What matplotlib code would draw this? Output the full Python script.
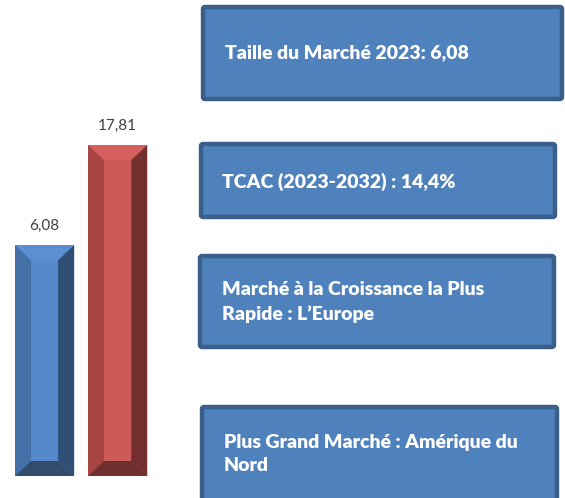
import matplotlib.pyplot as plt
from matplotlib.patches import Polygon, FancyBboxPatch

# chart data
years = ['2023', '2032']
values = [6.08, 17.81]
value_labels = ['6,08', '17,81']
base = -21.0  # bars start below zero in the source

faces = ['#5588CC', '#CD5A57']
tops = ['#5B8ED2', '#D55F5C']
lefts = ['#4571A8', '#A84441']
rights = ['#2F4F75', '#722F2E']
bottoms = ['#334C6C', '#6E302F']

infos = [
    'Taille du Marché 2023: 6,08',
    'TCAC (2023-2032) : 14,4%',
    'Marché à la Croissance la Plus\nRapide : L\u2019Europe',
    'Plus Grand Marché : Amérique du\nNord',
]

W, H = 565, 498
fig = plt.figure(figsize=(W / 100, H / 100), dpi=100)

# bar axes: left part of the figure, bottom edge at the bars' base
ax = fig.add_axes([0, 22 / H, 190 / W, 476 / H])
ax.set_xlim(-0.61, 1.99)
ax.set_ylim(base, base + 476 / 8.525)
ax.axis('off')

xs = list(range(len(values)))
width = 0.81
heights = [v - base for v in values]
ax.bar(xs, heights, width=width, bottom=base, color=faces, zorder=1)

bx = 16 / 73.0      # bevel width in x units
by = 15 / 8.525     # bevel height in y units
for i, v in enumerate(values):
    x0, x1 = xs[i] - width / 2, xs[i] + width / 2
    y0, y1 = base, v
    ix0, ix1, iy0, iy1 = x0 + bx, x1 - bx, y0 + by, y1 - by
    ax.add_patch(Polygon([(x0, y1), (x1, y1), (ix1, iy1), (ix0, iy1)], color=tops[i], lw=0, zorder=2))
    ax.add_patch(Polygon([(x0, y0), (x0, y1), (ix0, iy1), (ix0, iy0)], color=lefts[i], lw=0, zorder=2))
    ax.add_patch(Polygon([(x1, y0), (x1, y1), (ix1, iy1), (ix1, iy0)], color=rights[i], lw=0, zorder=2))
    ax.add_patch(Polygon([(x0, y0), (x1, y0), (ix1, iy0), (ix0, iy0)], color=bottoms[i], lw=0, zorder=3))
    ax.text(xs[i], v + 1.4, value_labels[i], ha='center', va='bottom',
            fontsize=11, color='#404040', family='Lato')

# info boxes, pixel positions (left, top, right, bottom)
boxes = [(203, 7, 562, 99), (201, 144, 555, 217), (200, 256, 554, 347), (202, 407, 557, 505)]
text_pos = [(225, 53), (222, 182), (222, 302), (224, 454)]
for (l, t, r, b), (tx, ty), s in zip(boxes, text_pos, infos):
    p = FancyBboxPatch((l / W, 1 - b / H), (r - l) / W, (b - t) / H,
                       boxstyle='round,pad=0,rounding_size=0.004',
                       transform=fig.transFigure, facecolor='#4F81BD',
                       edgecolor='#3A5F8B', linewidth=3.2, zorder=5)
    fig.patches.append(p)
    fig.text(tx / W, 1 - ty / H, s, ha='left', va='center', color='white',
             fontsize=14, fontweight='heavy', family='Lato', linespacing=1.45, zorder=6)

fig.savefig('out.png', dpi=100)
